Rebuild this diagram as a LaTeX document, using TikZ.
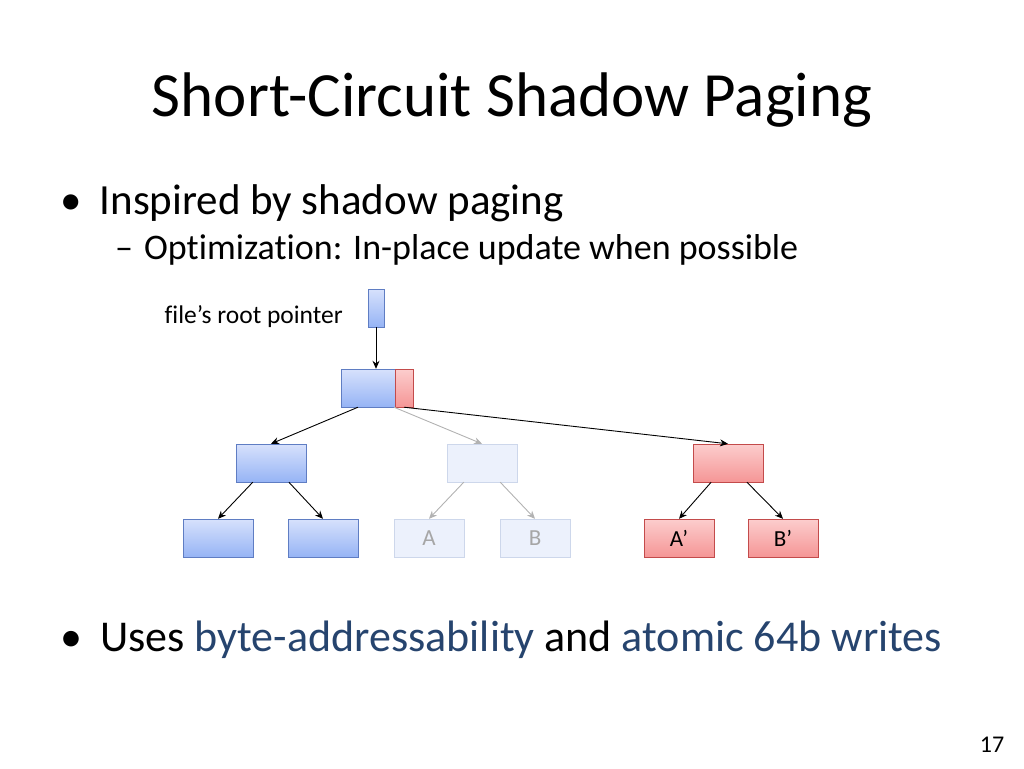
\documentclass[tikz,border=0pt]{standalone}
\usepackage{fontspec}
\setmainfont[Ligatures=NoCommon]{Carlito}
\usetikzlibrary{arrows.meta}
\definecolor{bluefill}{RGB}{150,180,245}
\definecolor{bluelight}{RGB}{215,225,252}
\definecolor{blueline}{RGB}{95,125,195}
\definecolor{redfill}{RGB}{245,150,150}
\definecolor{redlight}{RGB}{252,205,205}
\definecolor{redline}{RGB}{195,75,75}
\definecolor{fadefill}{RGB}{236,241,252}
\definecolor{fadeline}{RGB}{205,215,235}
\definecolor{hilite}{RGB}{38,68,110}
\tikzset{
  blueblock/.style={draw=blueline,top color=bluelight,bottom color=bluefill,minimum width=70pt,minimum height=38pt,inner sep=0pt,font=\fontsize{23}{26}\selectfont},
  redblock/.style={blueblock,draw=redline,top color=redlight,bottom color=redfill},
  fadeblock/.style={blueblock,draw=fadeline,fill=fadefill,top color=fadefill,bottom color=fadefill,text=black!35},
  link/.style={-{Stealth[length=8pt,width=7pt]},line width=0.9pt},
  fadelink/.style={link,draw=black!30}
}
\begin{document}
\begin{tikzpicture}[x=1pt,y=-1pt]
\useasboundingbox (0,0) rectangle (1024,768);
% text
\node (title) at (512,100) {\fontsize{63}{70}\selectfont Short-Circuit Shadow Paging};
\node[anchor=west,inner sep=0pt] (b1) at (60,203) {\fontsize{43}{50}\selectfont •\hspace{18pt}Inspired by shadow paging};
\node[anchor=west,inner sep=0pt] (b1a) at (115,250) {\fontsize{36}{42}\selectfont –\hspace{11pt}Optimization: In-place update when possible};
\node[anchor=west,inner sep=0pt] (b2) at (60,640) {\fontsize{44}{50}\selectfont •\hspace{18pt}Uses \textcolor{hilite}{byte-addressability} and \textcolor{hilite}{atomic 64b writes}};
\node (page) at (992,745) {\fontsize{24}{28}\selectfont 17};
\node[anchor=east,inner sep=0pt] (ptrlabel) at (343,317) {\fontsize{25.5}{30}\selectfont file’s root pointer};
% tree
\node[blueblock,minimum width=16pt] (ptr) at (376,308) {};
\node[blueblock,minimum width=54pt] (root) at (368,388) {};
\node[redblock,minimum width=18pt] (rootr) at (404,388) {};
\node[blueblock] (l) at (271,463) {};
\node[fadeblock] (m) at (482,463) {};
\node[redblock] (r) at (728,463) {};
\node[blueblock] (ll) at (218,538) {};
\node[blueblock] (lr) at (323,538) {};
\node[fadeblock] (ma) at (429,538) {A};
\node[fadeblock] (mb) at (535,538) {B};
\node[redblock] (ra) at (679,538) {A’};
\node[redblock] (rb) at (783,538) {B’};
\draw[link] (ptr) -- (root.north -| ptr);
\draw[link] ([xshift=-10pt]root.south) -- (l.north);
\draw[fadelink] ([xshift=26pt]root.south) -- (m.north);
\draw[link] (rootr.south) -- (r.north);
\draw[link] (l) -- (ll.north);
\draw[link] (l) -- (lr.north);
\draw[fadelink] (m) -- (ma.north);
\draw[fadelink] (m) -- (mb.north);
\draw[link] (r) -- (ra.north);
\draw[link] (r) -- (rb.north);
\end{tikzpicture}
\end{document}
